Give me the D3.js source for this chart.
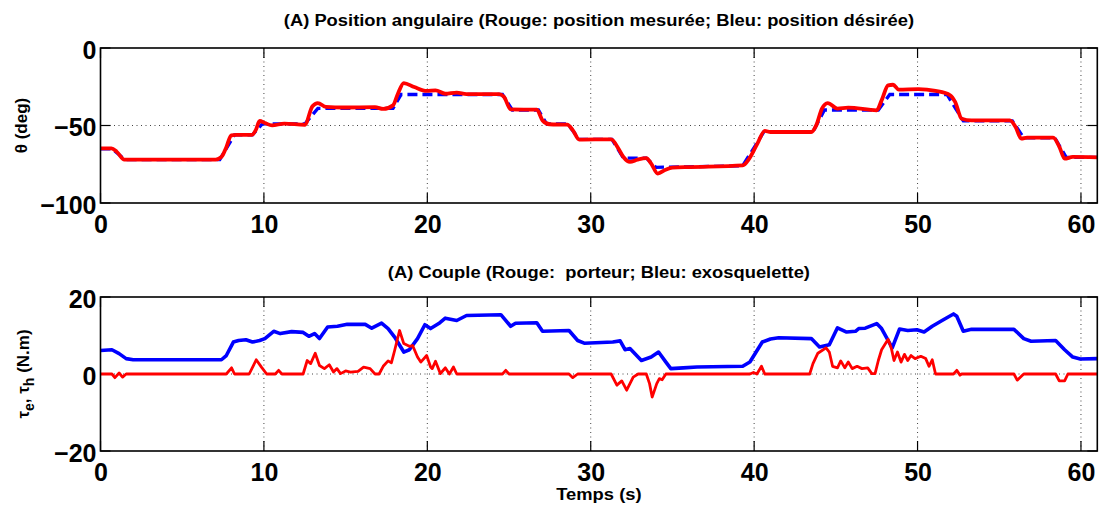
<!DOCTYPE html>
<html>
<head>
<meta charset="utf-8">
<script src="https://cdn.jsdelivr.net/npm/d3@7"></script>
<style>
  html, body { margin: 0; padding: 0; background: #fff; }
  svg { display: block; }
  text { font-family: "Liberation Sans", Arial, Helvetica, sans-serif; font-weight: bold; fill: #000; }
</style>
</head>
<body>
<svg id="fig" width="1100" height="506"></svg>
<script>
// ---- Data: time (s) and value pairs ----
const xTicks = [0, 10, 20, 30, 40, 50, 60];
const thetaTicks = [-100, -50, 0];
const torqueTicks = [-20, 0, 20];

// desired angular position (deg)
const thetaDesired = [
  [0,-65],[0.7,-65],[1.5,-72],[7.3,-72],[8.2,-56],[9.3,-56],[9.9,-49],[12.5,-49],
  [13.3,-39],[17.9,-39],[18.4,-30],[24.6,-30],[25.2,-40],[26.8,-40],[27.3,-49],[28.6,-49],
  [29.3,-59],[31.3,-59],[32.0,-71],[33.4,-71],[34.0,-77],[39.3,-76],[40.6,-54],[43.6,-54],
  [44.3,-40],[47.6,-40],[48.3,-30],[51.8,-30],[52.8,-47],[55.8,-47],[56.5,-58],[58.4,-58],
  [59.1,-70.5],[61,-70.5]
];

// measured angular position (deg)
const thetaMeasured = [
  [0,-64.7],[0.67,-64.7],[1.0,-67],[1.46,-72],[7.05,-72],[7.4,-70.3],[7.7,-64],[8.0,-56.3],
  [8.3,-56],[9.27,-56],[9.5,-53],[9.74,-47.1],[10.06,-48.4],[10.5,-49.9],[11.25,-48.8],[12.5,-49.5],
  [12.97,-37.6],[13.3,-35.5],[13.8,-38],[14.9,-38.4],[16.8,-38.2],[17.3,-39.3],[17.9,-37],[18.2,-29.5],
  [18.56,-22.6],[19.2,-25.2],[19.96,-27.7],[20.5,-27.3],[21.1,-29.5],[21.8,-28.8],[22.4,-29.7],[24.4,-29.7],
  [24.7,-31.6],[25.1,-39.6],[26.7,-39.8],[27.05,-46.7],[27.48,-49.2],[28.56,-49.5],[28.9,-53],[29.3,-59.1],
  [31.25,-58.9],[31.7,-65],[32.0,-70.3],[32.4,-73.5],[32.86,-72],[33.4,-71],[33.7,-74.6],[34.1,-81],
  [34.58,-78.5],[35.0,-77.2],[36.1,-76.8],[39.3,-75.7],[39.7,-71.4],[40.2,-61.7],[40.65,-53.5],[41.0,-54.2],
  [43.5,-54.2],[43.8,-49.9],[44.15,-39.1],[44.5,-35.5],[45.1,-39.1],[45.76,-38.5],[47.5,-40.2],[47.8,-33.8],
  [48.2,-24.1],[48.5,-23.7],[48.85,-26.9],[50.06,-26.5],[51.1,-27.7],[52.0,-30.5],[52.3,-34.8],[52.7,-45.6],
  [53.3,-46.7],[55.65,-46.7],[56.0,-51],[56.35,-58.5],[56.7,-57.8],[58.3,-57.8],[58.7,-64.3],[59.0,-71.4],
  [59.5,-70.3],[61,-70.5]
];

// exoskeleton torque (N.m)
const torqueExo = [
  [0,6.1],[0.7,6.3],[1.14,5.3],[1.57,4.0],[2.0,3.7],[7.4,3.7],[7.7,4.8],[8.13,8.3],[8.45,8.7],[8.9,8.9],
  [9.3,8.3],[9.74,8.7],[10.06,9.2],[10.6,11.1],[11.0,10.5],[11.7,11.0],[12.4,10.8],[12.75,9.8],[13.1,10.5],
  [13.4,9.2],[13.9,12.2],[14.5,12.4],[15.1,12.9],[16.2,12.9],[16.6,11.9],[17.2,13.2],[17.6,11.8],[18.0,9.6],
  [18.56,5.7],[18.9,6.3],[19.4,9.2],[19.85,12.8],[20.2,11.8],[20.7,13.1],[21.1,14.5],[21.8,13.9],[22.4,15.2],
  [24.5,15.4],[25.1,12.4],[25.4,13.2],[26.7,13.3],[27.05,11.1],[28.67,11.3],[29.2,8.7],[29.6,8.0],[31.35,8.3],
  [31.8,8.6],[32.1,6.3],[32.4,6.6],[33.1,3.5],[33.7,4.4],[34.15,5.7],[34.6,3.1],[34.9,1.4],[35.66,1.6],
  [36.5,1.8],[39.3,2.0],[39.74,3.1],[40.5,8.3],[41.0,9.1],[41.5,9.4],[43.5,9.2],[44.0,7.0],[44.6,7.6],
  [45.1,12.0],[45.66,10.9],[46.2,11.1],[46.4,11.8],[46.8,11.9],[47.5,13.1],[47.8,11.8],[48.45,6.8],[48.9,11.7],
  [49.4,11.3],[49.96,11.5],[50.4,10.9],[50.9,12.4],[51.5,13.9],[52.2,15.6],[52.4,15.0],[52.8,11.1],[53.3,11.6],
  [55.9,11.6],[56.5,9.2],[56.95,8.5],[58.45,8.7],[59.0,6.3],[59.5,4.4],[59.96,3.9],[61,4.0]
];

// wearer torque (N.m)
const torqueWearer = [
  [0,0],[0.7,0],[0.88,-0.95],[1.14,0.26],[1.35,-0.8],[1.57,0],[7.7,0],[8.02,1.6],[8.2,0],[9.1,0],
  [9.53,3.7],[9.85,1.8],[10.17,0],[10.7,0],[10.9,0.95],[11.1,0],[12.4,0],[12.65,3.5],[12.86,2.7],[13.14,5.4],
  [13.4,2.2],[13.7,1.4],[14.0,2.4],[14.26,0.5],[14.47,1.4],[14.69,0.1],[15.0,0.8],[15.3,0.5],[15.76,0.7],
  [16.1,1.8],[16.5,1.4],[16.8,0],[17.05,0],[17.3,2.0],[17.6,3.4],[17.8,2.9],[18.0,6.1],[18.3,11.3],[18.56,7.9],
  [18.9,7.2],[19.1,7.4],[19.4,4.4],[19.6,3.1],[19.96,4.8],[20.2,1.8],[20.3,1.4],[20.5,3.3],[20.8,0.1],
  [21.0,1.1],[21.1,1.6],[21.35,0],[21.6,1.8],[21.8,0],[24.6,0],[24.8,0.95],[25.0,0],[28.67,0],[28.9,-0.95],
  [29.2,0],[31.25,0],[31.6,-2.9],[31.9,-1.8],[32.2,-4.2],[32.6,-0.8],[32.9,0],[33.4,0],[33.6,-2.5],[33.76,-6.0],
  [34.04,-2.5],[34.2,-1.2],[34.37,-1.5],[34.6,0],[39.74,0],[39.96,0.4],[40.17,0],[40.45,2.0],[40.65,0],
  [43.4,0],[43.6,2.7],[43.9,5.4],[44.4,6.8],[44.6,5.7],[44.8,2.0],[45.1,1.6],[45.3,3.4],[45.55,1.6],
  [45.76,3.1],[46.0,1.4],[46.3,2.0],[46.6,1.4],[46.95,1.6],[47.2,0.1],[47.4,0.1],[47.6,3.5],[47.8,6.3],
  [48.2,9.0],[48.4,6.6],[48.56,3.5],[48.77,5.7],[48.99,3.1],[49.2,5.1],[49.4,3.5],[49.6,4.8],[49.85,4.0],
  [50.2,4.6],[50.5,4.0],[50.7,2.0],[50.9,3.7],[51.1,0],[52.2,0],[52.4,0.95],[52.6,-0.3],[52.7,0],[55.9,0],
  [56.1,-1.6],[56.4,-0.4],[56.5,0],[58.45,0],[58.67,-1.8],[59.0,-1.8],[59.2,0],[61,0]
];

// ---- Layout ----
const svg = d3.select("#fig");
svg.append("rect").attr("width", 1100).attr("height", 506).attr("fill", "#fff");

const left = 100.5, right = 1097.3;
const cx = (left + right) / 2;
const panels = [
  { top: 48, bottom: 203, domain: [-100, 0], ticks: thetaTicks, grid: [-50],
    title: "(A) Position angulaire (Rouge: position mesurée; Bleu: position désirée)", titleY: 26 },
  { top: 297, bottom: 451, domain: [-20, 20], ticks: torqueTicks, grid: [0],
    title: "(A) Couple (Rouge:\u00a0\u00a0porteur; Bleu: exosquelette)", titleY: 278 }
];

const x = d3.scaleLinear().domain([0, 61]).range([left, right]);
const tickLen = 10;
const labelSize = 17, labelStretch = 1.08;

function drawPanel(p) {
  const y = d3.scaleLinear().domain(p.domain).range([p.bottom, p.top]);
  const g = svg.append("g");

  // dotted grid
  const gridStyle = sel => sel.attr("stroke", "#444").attr("stroke-width", 1)
    .attr("stroke-dasharray", "1,3.5").attr("fill", "none");
  g.selectAll(".vg").data(xTicks.filter(d => d > 0)).join("line")
    .attr("x1", d => x(d)).attr("x2", d => x(d)).attr("y1", p.top).attr("y2", p.bottom)
    .call(gridStyle);
  g.selectAll(".hg").data(p.grid).join("line")
    .attr("x1", left).attr("x2", right).attr("y1", d => y(d)).attr("y2", d => y(d))
    .call(gridStyle);

  // axes: bottom/left with labels, top/right mirrored, ticks pointing inward
  const axB = d3.axisBottom(x).tickValues(xTicks).tickSize(0).tickPadding(0).tickFormat(d3.format("d"));
  const axL = d3.axisLeft(y).tickValues(p.ticks).tickSize(0).tickPadding(0)
    .tickFormat(d => d < 0 ? "\u2212" + Math.abs(d) : d);

  const gb = g.append("g").attr("transform", `translate(0,${p.bottom})`).call(axB);
  gb.select(".domain").remove();
  gb.selectAll("text").attr("font-size", 25).attr("dy", null).attr("y", 30)
    .attr("text-anchor", "middle");

  const gl = g.append("g").attr("transform", `translate(${left},0)`).call(axL);
  gl.select(".domain").remove();
  gl.selectAll("text").attr("font-size", 25).attr("x", -4).attr("dy", "0.40em")
    .attr("text-anchor", "end");

  const tk = sel => sel.attr("stroke", "#000").attr("stroke-width", 1.2);
  g.selectAll(".tb").data(xTicks).join("line")
    .attr("x1", d => x(d)).attr("x2", d => x(d)).attr("y1", p.bottom).attr("y2", p.bottom - tickLen).call(tk);
  g.selectAll(".tt").data(xTicks).join("line")
    .attr("x1", d => x(d)).attr("x2", d => x(d)).attr("y1", p.top).attr("y2", p.top + tickLen).call(tk);
  g.selectAll(".tl").data(p.ticks).join("line")
    .attr("x1", left).attr("x2", left + tickLen).attr("y1", d => y(d)).attr("y2", d => y(d)).call(tk);
  g.selectAll(".tr").data(p.ticks).join("line")
    .attr("x1", right).attr("x2", right - tickLen).attr("y1", d => y(d)).attr("y2", d => y(d)).call(tk);

  // title
  svg.append("text").attr("transform", `translate(${cx},${p.titleY}) scale(${labelStretch},1)`)
    .attr("text-anchor", "middle").attr("font-size", labelSize).text(p.title);

  return { g, y };
}

const P1 = drawPanel(panels[0]);
const P2 = drawPanel(panels[1]);

// clip paths so traces stay inside the axes boxes
function clip(id, p) {
  svg.append("clipPath").attr("id", id).append("rect")
    .attr("x", left).attr("y", p.top).attr("width", right - left).attr("height", p.bottom - p.top);
}
clip("c1", panels[0]);
clip("c2", panels[1]);

// top panel traces
const lineTheta = d3.line().x(d => x(d[0])).y(d => P1.y(d[1]));
svg.append("path").datum(thetaDesired).attr("clip-path", "url(#c1)")
  .attr("d", lineTheta).attr("fill", "none").attr("stroke", "#0000ff")
  .attr("stroke-width", 3.3).attr("stroke-dasharray", "10,5");
svg.append("path").datum(thetaMeasured).attr("clip-path", "url(#c1)")
  .attr("d", lineTheta.curve(d3.curveMonotoneX)).attr("fill", "none").attr("stroke", "#ff0000")
  .attr("stroke-width", 3.8).attr("stroke-linejoin", "round");

// bottom panel traces
const lineTau = d3.line().x(d => x(d[0])).y(d => P2.y(d[1]));
svg.append("path").datum(torqueExo).attr("clip-path", "url(#c2)")
  .attr("d", lineTau).attr("fill", "none").attr("stroke", "#0000ff")
  .attr("stroke-width", 3.6).attr("stroke-linejoin", "round");
svg.append("path").datum(torqueWearer).attr("clip-path", "url(#c2)")
  .attr("d", lineTau).attr("fill", "none").attr("stroke", "#ff0000")
  .attr("stroke-width", 2.8).attr("stroke-linejoin", "round");

// axes boxes on top of the traces
panels.forEach(p => {
  svg.append("rect").attr("x", left).attr("y", p.top).attr("width", right - left)
    .attr("height", p.bottom - p.top).attr("fill", "none").attr("stroke", "#000").attr("stroke-width", 1.6);
});

// axis labels
svg.append("text").attr("transform", `translate(27,${(panels[0].top + panels[0].bottom) / 2}) rotate(-90)`)
  .attr("text-anchor", "middle").attr("font-size", labelSize).text("\u03b8 (deg)");

const yl = svg.append("text")
  .attr("transform", `translate(29,${(panels[1].top + panels[1].bottom) / 2}) rotate(-90)`)
  .attr("text-anchor", "middle").attr("font-size", labelSize);
yl.append("tspan").text("\u03c4");
yl.append("tspan").attr("font-size", 14).attr("dy", 5).text("e");
yl.append("tspan").attr("dy", -5).text(", \u03c4");
yl.append("tspan").attr("font-size", 14).attr("dy", 5).text("h");
yl.append("tspan").attr("dy", -5).text(" (N.m)");

svg.append("text").attr("transform", `translate(${cx},500) scale(${labelStretch},1)`)
  .attr("text-anchor", "middle").attr("font-size", labelSize).text("Temps (s)");
</script>
</body>
</html>
